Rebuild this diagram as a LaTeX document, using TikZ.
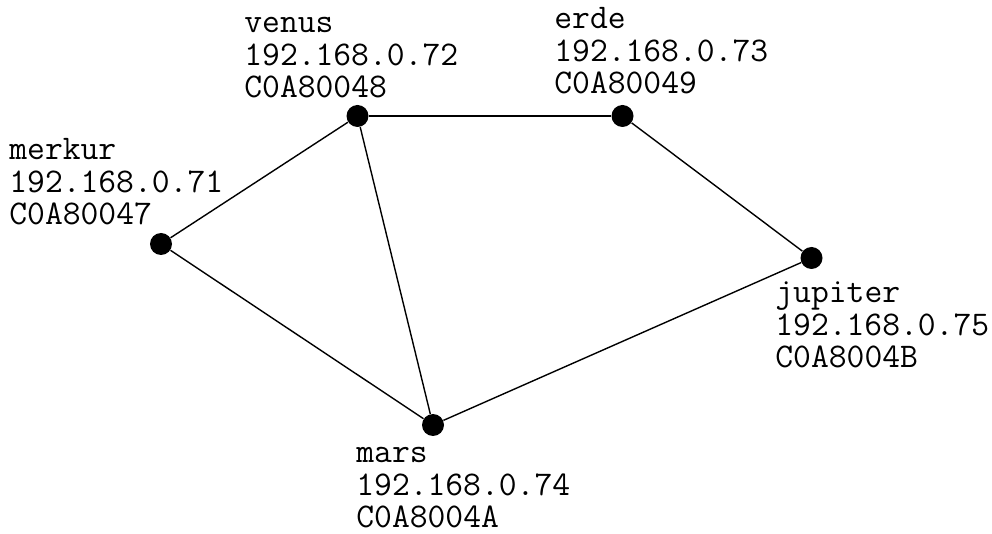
\documentclass[tikz,border=0pt]{standalone}
\begin{document}
\begin{tikzpicture}[x=0.5pt,y=-0.5pt,
  host/.style={circle,fill=black,inner sep=0pt,minimum size=11pt},
  lbl/.style={anchor=base west,inner sep=0pt,font=\ttfamily\fontsize{17.3}{16.2}\selectfont},
  link/.style={line width=0.7pt}]
\useasboundingbox (0,0) rectangle (992,534);
\node[host] (venus) at (357.5,116) {};
\node[host] (erde) at (622.5,116) {};
\node[host] (merkur) at (161,244) {};
\node[host] (jupiter) at (811.5,258) {};
\node[host] (mars) at (433,425) {};
\node[lbl] (lvenus) at (244,33) {\begin{tabular}[t]{@{}l@{}}venus\\192.168.0.72\\C0A80048\end{tabular}};
\node[lbl] (lerde) at (554,29) {\begin{tabular}[t]{@{}l@{}}erde\\192.168.0.73\\C0A80049\end{tabular}};
\node[lbl] (lmerkur) at (9,160) {\begin{tabular}[t]{@{}l@{}}merkur\\192.168.0.71\\C0A80047\end{tabular}};
\node[lbl] (ljupiter) at (775,303) {\begin{tabular}[t]{@{}l@{}}jupiter\\192.168.0.75\\C0A8004B\end{tabular}};
\node[lbl] (lmars) at (356,463) {\begin{tabular}[t]{@{}l@{}}mars\\192.168.0.74\\C0A8004A\end{tabular}};
\draw[link] (venus) -- (erde);
\draw[link] (venus) -- (merkur);
\draw[link] (venus) -- (mars);
\draw[link] (merkur) -- (mars);
\draw[link] (mars) -- (jupiter);
\draw[link] (erde) -- (jupiter);
\end{tikzpicture}
\end{document}
